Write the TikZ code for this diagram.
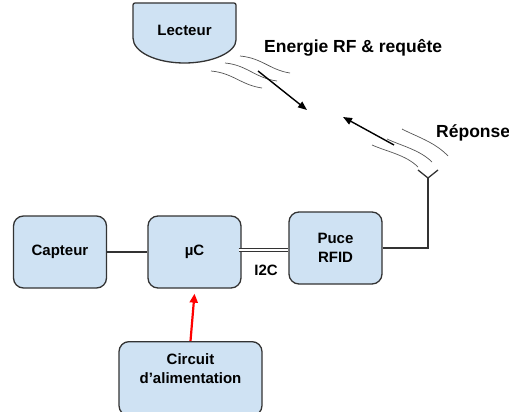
\documentclass[tikz,border=0pt]{standalone}
\usepackage{fontspec}
\setmainfont{Liberation Sans}
\usetikzlibrary{arrows.meta,calc}
\definecolor{boxfill}{HTML}{CFE2F3}
\definecolor{boxline}{HTML}{333333}
\definecolor{wavecol}{HTML}{555555}
\begin{document}
\begin{tikzpicture}[x=1pt,y=-1pt,
  blk/.style={draw=boxline,fill=boxfill,line width=1.3pt,rounded corners=10pt,
    minimum width=93pt,minimum height=72pt,align=center,inner sep=0pt,
    font=\bfseries\fontsize{15}{19}\selectfont},
  lbl/.style={font=\bfseries\fontsize{17.5}{21}\selectfont,inner sep=0pt,anchor=west},
  wave/.style={draw=wavecol,line width=0.7pt},
  sig/.style={line width=1.4pt,-{Triangle[length=9pt,width=7pt]}},
  wire/.style={line width=1.3pt,draw=boxline}
]
\useasboundingbox (0,0) rectangle (509,412);

% Lecteur
\draw[boxline,fill=boxfill,line width=1.3pt,rounded corners=2pt]
  (133,3) -- (236,3) -- (236,38) [sharp corners] .. controls (236,52) and (212.9,63) .. (184.5,63)
  .. controls (156.1,63) and (133,52) .. (133,38) [rounded corners=2pt] -- cycle;
\node[font=\bfseries\fontsize{15}{19}\selectfont] (lecteur) at (184.5,30) {Lecteur};

% labels
\node[lbl] (lblrf) at (264,48) {Energie RF \& requête};
\node[lbl] (lblrep) at (436,133) {Réponse};

% waves near reader
\draw[wave] (240,56) .. controls (262,58) and (270,70) .. (290,73);
\draw[wave] (225,63) .. controls (247,65) and (255,78) .. (277,81);
\draw[wave] (211,71) .. controls (233,73) and (241,85) .. (262,88);

% waves near antenna
\draw[wave] (402,129) .. controls (415,136) and (435,142) .. (448,156);
\draw[wave] (387,139) .. controls (402,146) and (420,150) .. (432,162);
\draw[wave] (372,145) .. controls (388,152) and (406,155) .. (418,167);

% signal arrows
\coordinate (a1s) at (258,71);
\coordinate (a1e) at (307,110);
\coordinate (a2s) at (394,145);
\coordinate (a2e) at (343,117);
\draw[sig] (a1s) -- (a1e);
\draw[sig] (a2s) -- (a2e);

% blocks
\node[blk] (capteur) at (60,252) {Capteur};
\node[blk] (uc) at (194.5,252) {µC};
\node[blk] (puce) at (335.5,248) {Puce\\RFID};
\node[blk,minimum width=143pt,minimum height=74pt,anchor=north] (circuit) at (190.5,341) {};
\node[align=center,font=\bfseries\fontsize{15}{19}\selectfont] (circtxt) at (190.5,369) {Circuit\\d’alimentation};

% connections
\draw[wire] (capteur.east) -- (uc.west);
\draw[line width=0.9pt,draw=boxline,double=white,double distance=2.2pt]
  ([yshift=2pt,xshift=-3pt]uc.east) -- ([yshift=-2pt]puce.west);
\node[font=\bfseries\fontsize{15}{19}\selectfont] (i2c) at (266,270) {I2C};

% antenna
\coordinate (ant) at (428,178);
\coordinate (antl) at (418,170);
\coordinate (antr) at (438,170);
\draw[wire] (puce.east) -| (ant);
\draw[wire] (antl) -- (ant) -- (antr);

% power arrow
\draw[red,line width=2.2pt,-{Triangle[length=9pt,width=8pt]}] (circuit.north) -- ([yshift=-5pt]uc.south);
\end{tikzpicture}
\end{document}
